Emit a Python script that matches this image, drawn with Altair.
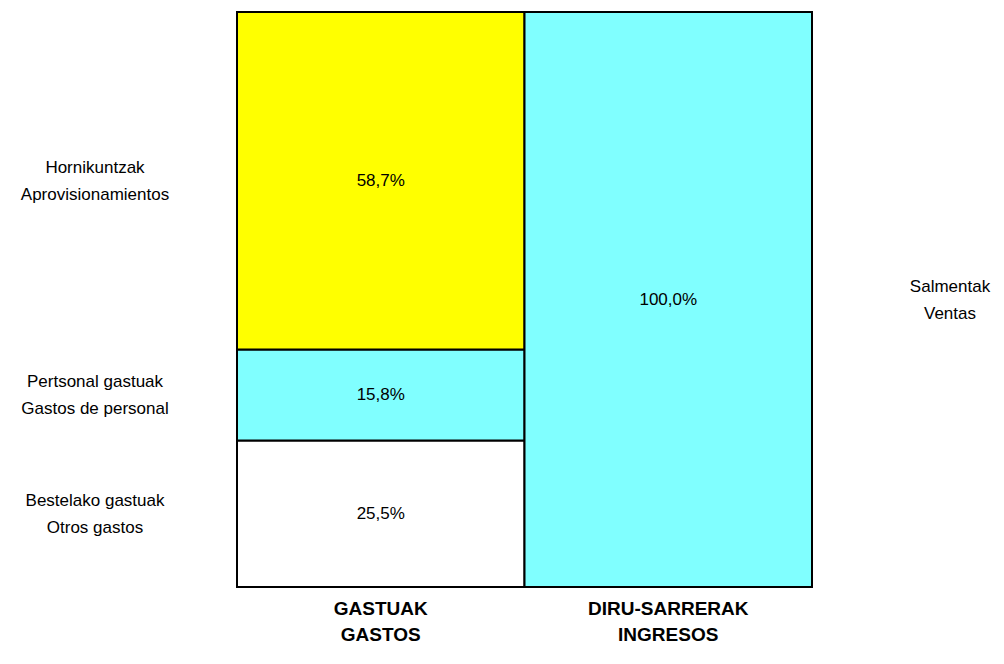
import altair as alt
import pandas as pd

columns = ["GASTUAK\nGASTOS", "DIRU-SARRERAK\nINGRESOS"]
left_labels = ["Bestelako gastuak\nOtros gastos", "Pertsonal gastuak\nGastos de personal", "Hornikuntzak\nAprovisionamientos"]
left_values = [25.5, 15.8, 58.7]
left_colors = ["#FFFFFF", "#80FFFF", "#FFFF00"]
right_labels = ["Salmentak\nVentas"]
right_values = [100.0]
right_colors = ["#80FFFF"]

rows = []
for col, labels, values, colors, side in [
    (columns[0], left_labels, left_values, left_colors, "left"),
    (columns[1], right_labels, right_values, right_colors, "right"),
]:
    start = 0.0
    for lab, v, c in zip(labels, values, colors):
        rows.append({
            "col": col, "label": lab, "value": v, "color": c, "side": side,
            "start": start, "end": start + v, "mid": start + v / 2,
            "pct": f"{v:.1f}".replace(".", ",") + "%",
        })
        start += v
df = pd.DataFrame(rows)

FONT = "Liberation Sans"

xscale = alt.Scale(domain=columns, paddingInner=0, paddingOuter=0)
yscale = alt.Scale(domain=[0, 100], nice=False)

base = alt.Chart(df)

bars = base.mark_bar(stroke="black", strokeWidth=2).encode(
    x=alt.X("col:N", scale=xscale, axis=None, sort=columns),
    y=alt.Y("start:Q", scale=yscale, axis=None),
    y2="end:Q",
    color=alt.Color("color:N", scale=None),
)

pcts = base.mark_text(font=FONT, fontSize=17, color="black").encode(
    x=alt.X("col:N", scale=xscale, sort=columns),
    y=alt.Y("mid:Q", scale=yscale),
    text="pct:N",
)

left_text = alt.Chart(df[df.side == "left"]).mark_text(
    font=FONT, fontSize=17, lineBreak="\n", lineHeight=27, align="center", baseline="middle",
    dy=-13, color="black"
).encode(
    x=alt.value(-142),
    y=alt.Y("mid:Q", scale=yscale),
    text="label:N",
)

right_text = alt.Chart(df[df.side == "right"]).mark_text(
    font=FONT, fontSize=17, lineBreak="\n", lineHeight=27, align="center", baseline="middle",
    dy=-13, color="black"
).encode(
    x=alt.value(713),
    y=alt.Y("mid:Q", scale=yscale),
    text="label:N",
)

cat_df = pd.DataFrame({"col": columns})
cat_text = alt.Chart(cat_df).mark_text(
    font=FONT, fontSize=19, fontWeight="bold", lineBreak="\n", lineHeight=26, align="center", baseline="middle", color="black"
).encode(
    x=alt.X("col:N", scale=xscale, sort=columns),
    y=alt.value(597),
    text="col:N",
)

chart = alt.layer(bars, pcts, left_text, right_text, cat_text).properties(
    width=575, height=575,
    autosize=alt.AutoSizeParams(type="none"),
    padding={"left": 229, "top": 4, "right": 184, "bottom": 60},
).configure_view(stroke=None).configure(background="white")

chart.save("out.html", embed_options={"renderer": "svg", "actions": False})
